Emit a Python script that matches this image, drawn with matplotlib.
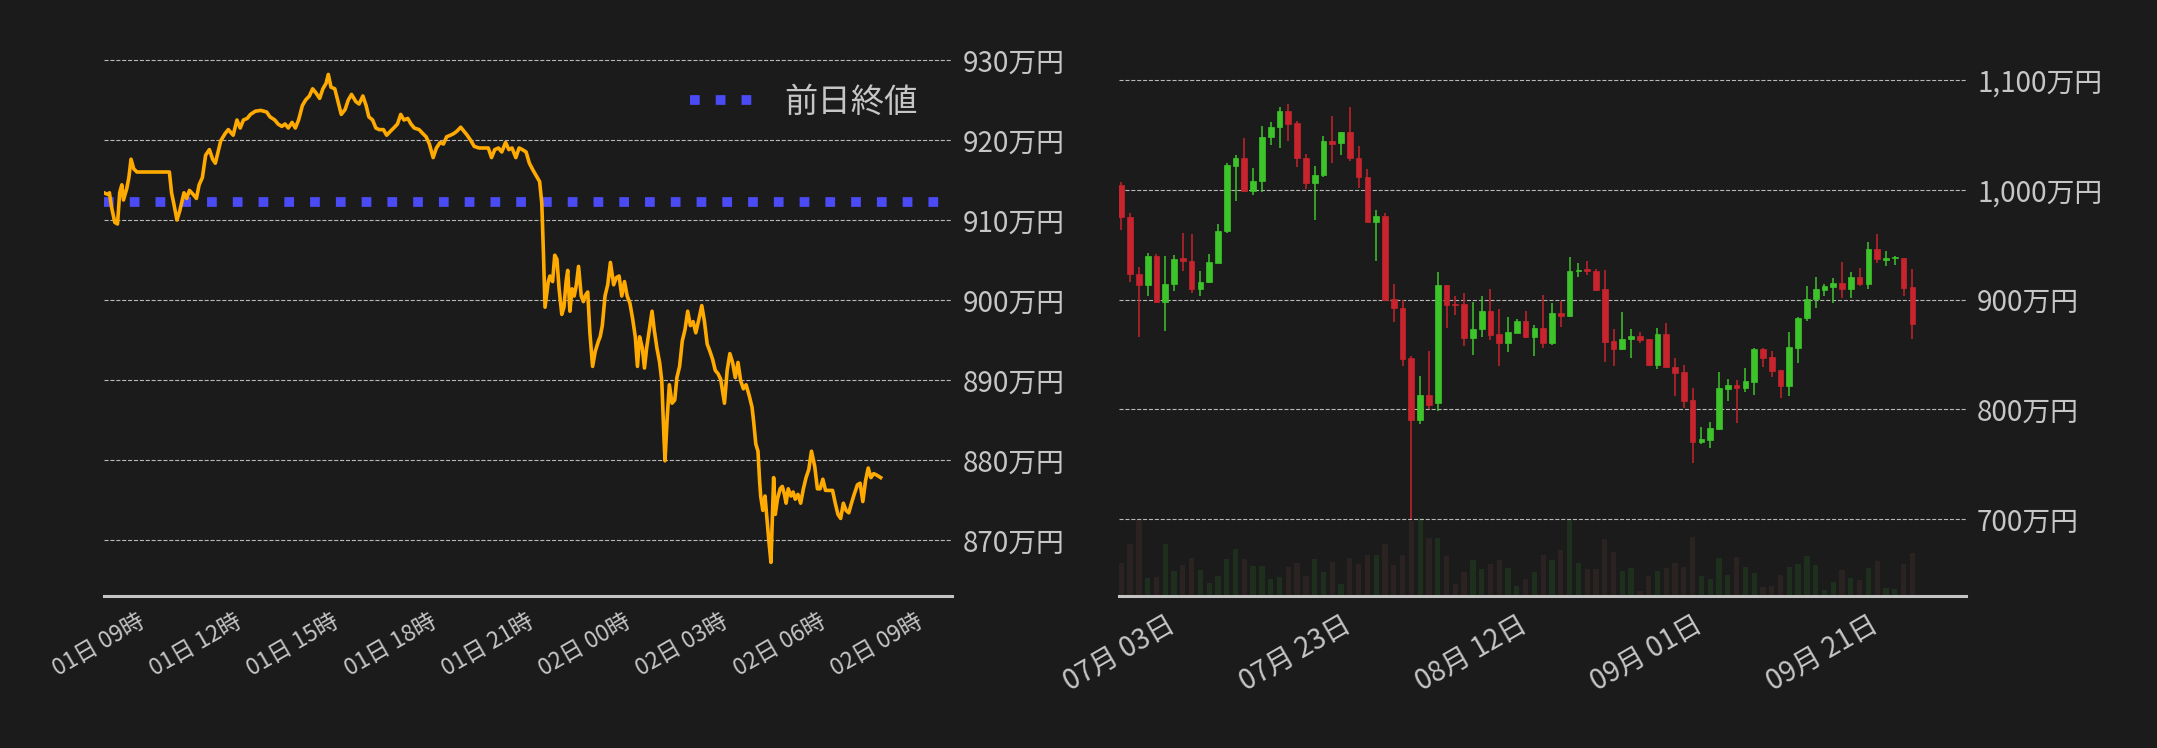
import numpy as np
import pandas as pd
import matplotlib
matplotlib.use("Agg")
import matplotlib.pyplot as plt
import matplotlib.dates as mdates
from matplotlib.ticker import FuncFormatter

# ---- intraday (left): minutes from 01日 09:00, price in 万円 ----
intraday_min = [
    -61, -54, -51, -47, -41, -36, -32, -28, -25, -19,
    -15, -11, -6, 0, 60, 64, 68, 74, 79, 87,
    92, 97, 104, 110, 115, 121, 127, 134, 140, 145,
    150, 155, 163, 169, 178, 185, 191, 197, 204, 210,
    219, 229, 240, 246, 255, 261, 268, 274, 280, 287,
    293, 299, 306, 312, 319, 325, 331, 338, 344, 350,
    354, 359, 366, 372, 378, 385, 391, 397, 405, 411,
    418, 424, 429, 436, 442, 448, 456, 462, 469, 475,
    482, 488, 494, 501, 507, 513, 522, 529, 535, 541,
    548, 554, 561, 567, 573, 580, 586, 592, 599, 605,
    611, 618, 624, 633, 643, 650, 656, 662, 669, 675,
    682, 688, 694, 701, 707, 713, 720, 726, 733, 739,
    745, 749, 752, 755, 761, 764, 769, 773, 777, 781,
    786, 790, 794, 797, 801, 805, 809, 813, 817, 822,
    826, 829, 834, 838, 843, 848, 854, 857, 861, 866,
    871, 876, 882, 887, 892, 897, 902, 907, 912, 917,
    922, 926, 930, 935, 939, 943, 948, 953, 957, 962,
    967, 971, 975, 977, 981, 985, 990, 995, 999, 1004,
    1009, 1014, 1019, 1024, 1029, 1034, 1040, 1045, 1050, 1055,
    1060, 1065, 1070, 1075, 1080, 1087, 1092, 1097, 1102, 1107,
    1112, 1117, 1122, 1127, 1133, 1138, 1141, 1145, 1149, 1152,
    1154, 1158, 1162, 1166, 1169, 1173, 1176, 1178, 1181, 1185,
    1190, 1194, 1198, 1201, 1205, 1210, 1214, 1218, 1223, 1228,
    1233, 1238, 1243, 1248, 1254, 1259, 1264, 1269, 1274, 1280,
    1287, 1292, 1297, 1302, 1307, 1312, 1317, 1322, 1327, 1333,
    1338, 1343, 1348, 1353, 1358, 1363, 1369, 1376,
]
intraday_price = [
    913.4, 913.2, 913.4, 911.6, 909.7, 909.5, 913.4, 914.4, 912.5, 913.9,
    915.3, 917.6, 916.4, 916.0, 916.0, 913.4, 912.1, 910.0, 911.1, 913.4,
    912.7, 913.7, 913.2, 912.7, 914.4, 915.3, 918.1, 918.8, 917.6, 917.1,
    918.5, 919.9, 920.8, 921.3, 920.6, 922.5, 921.5, 922.5, 922.7, 923.2,
    923.6, 923.7, 923.5, 922.9, 922.5, 922.0, 921.7, 922.0, 921.5, 922.2,
    921.5, 922.5, 924.3, 925.0, 925.5, 926.4, 925.9, 925.2, 926.4, 927.1,
    928.2, 926.6, 926.4, 924.8, 923.2, 923.8, 925.0, 925.7, 924.8, 924.5,
    925.5, 924.3, 922.9, 922.5, 921.5, 921.3, 921.3, 920.6, 921.1, 921.5,
    922.0, 923.2, 922.5, 922.7, 922.0, 921.5, 921.3, 920.8, 920.4, 919.5,
    917.8, 919.0, 919.7, 919.5, 920.4, 920.6, 920.8, 921.1, 921.6, 921.1,
    920.6, 919.9, 919.2, 919.0, 919.0, 919.0, 917.8, 918.8, 919.0, 918.5,
    919.7, 918.8, 919.0, 917.8, 919.0, 918.8, 918.5, 917.1, 916.2, 915.5,
    914.8, 912.1, 906.0, 899.1, 902.3, 903.0, 902.3, 905.6, 905.1, 901.4,
    898.2, 899.1, 902.3, 903.7, 898.6, 901.4, 900.5, 901.9, 904.2, 900.5,
    899.8, 900.5, 901.0, 895.9, 891.7, 893.6, 894.9, 895.4, 896.8, 900.5,
    901.9, 904.7, 901.9, 902.8, 903.0, 900.5, 902.3, 900.5, 899.6, 897.7,
    895.4, 891.7, 895.4, 894.0, 891.5, 894.0, 896.3, 898.6, 896.3, 894.0,
    892.2, 889.9, 882.9, 879.9, 885.2, 889.4, 887.1, 887.5, 890.3, 891.7,
    894.9, 896.3, 898.6, 896.8, 897.3, 895.9, 897.7, 899.3, 897.3, 894.5,
    893.6, 892.6, 891.2, 890.8, 890.1, 887.1, 891.2, 893.3, 892.2, 890.3,
    892.2, 889.9, 888.9, 889.4, 888.0, 886.6, 884.8, 882.0, 881.1, 877.4,
    875.5, 873.7, 875.5, 872.3, 870.0, 867.2, 873.7, 877.8, 873.2, 875.1,
    876.4, 876.7, 875.7, 874.6, 876.4, 875.5, 876.0, 875.1, 875.7, 874.6,
    876.4, 877.8, 878.8, 881.1, 879.2, 876.4, 876.4, 877.6, 876.2, 876.2,
    876.2, 874.6, 873.2, 872.7, 874.6, 873.7, 873.4, 874.6, 875.7, 876.9,
    877.1, 874.8, 877.4, 879.0, 877.8, 878.3, 878.1, 877.8,
]
prev_close = 912.2
intraday_yticks = [870, 880, 890, 900, 910, 920, 930]

# ---- daily candles (right), 万円 ----
daily_start = "2024-06-28"
opens = [
    1004.5, 975.5, 923.6, 913.0, 940.0, 897.6, 913.9, 938.2, 935.5, 909.4,
    915.8, 933.0, 962.0, 1022.0, 1029.0, 998.5, 1007.6, 1047.6, 1056.7, 1071.8,
    1060.9, 1029.0, 1005.8, 1013.0, 1044.5, 1043.0, 1052.7, 1029.0, 1011.8, 970.3,
    976.4, 900.9, 892.7, 846.4, 790.3, 812.7, 805.8, 913.6, 895.5, 895.5,
    864.8, 873.0, 890.0, 868.2, 860.3, 869.4, 880.0, 865.8, 874.5, 860.3,
    887.3, 884.8, 925.8, 928.2, 926.4, 910.0, 861.8, 854.8, 863.9, 866.4,
    864.0, 840.3, 869.0, 839.0, 833.6, 808.2, 770.3, 772.1, 782.1, 818.5,
    821.8, 819.4, 824.8, 854.5, 847.3, 835.5, 821.2, 855.8, 883.0, 900.3,
    909.1, 911.8, 915.5, 910.0, 920.9, 914.5, 946.4, 936.4, 937.6, 938.2,
    911.8,
]
highs = [
    1007.3, 978.8, 930.0, 942.7, 941.8, 940.0, 940.9, 960.9, 960.0, 926.4,
    941.8, 969.0, 1024.5, 1031.8, 1047.3, 1020.0, 1058.2, 1061.8, 1075.5, 1078.2,
    1062.7, 1032.7, 1021.8, 1049.0, 1067.3, 1052.7, 1075.5, 1040.0, 1019.0, 981.8,
    979.0, 914.5, 900.0, 849.0, 830.0, 852.7, 925.5, 913.6, 903.6, 905.5,
    897.3, 903.6, 910.0, 891.8, 884.5, 882.7, 890.0, 876.4, 904.5, 896.4,
    899.1, 939.0, 933.6, 935.5, 928.2, 927.3, 873.6, 889.0, 873.6, 870.0,
    864.0, 874.5, 879.0, 846.7, 840.3, 819.4, 783.6, 788.2, 833.6, 827.3,
    826.4, 837.3, 855.5, 855.5, 852.7, 835.5, 870.0, 884.5, 912.7, 920.9,
    914.5, 920.0, 934.5, 925.5, 929.0, 952.7, 960.0, 944.5, 940.0, 938.2,
    928.2,
]
lows = [
    963.0, 916.4, 865.8, 903.0, 896.7, 871.2, 907.6, 925.8, 905.8, 903.0,
    914.8, 933.0, 960.3, 989.4, 998.5, 994.8, 997.6, 1040.3, 1037.6, 1044.8,
    1020.3, 1001.0, 972.0, 1011.2, 1024.0, 1031.8, 1025.8, 1002.0, 970.3, 934.8,
    898.5, 879.4, 839.4, 700.0, 786.4, 800.0, 798.5, 874.0, 885.8, 857.6,
    849.4, 865.8, 863.0, 839.4, 852.1, 869.4, 864.8, 848.5, 855.8, 858.5,
    874.8, 884.0, 920.3, 922.7, 908.2, 843.0, 839.4, 853.9, 846.7, 860.3,
    839.4, 836.7, 837.6, 812.1, 801.2, 751.0, 768.5, 764.8, 781.2, 807.6,
    787.6, 815.8, 813.0, 838.5, 829.4, 810.3, 812.1, 842.1, 880.3, 892.7,
    903.6, 896.4, 901.8, 901.8, 912.7, 910.0, 933.6, 930.9, 931.8, 903.6,
    864.5,
]
closes = [
    974.8, 923.0, 913.0, 940.0, 897.6, 914.5, 937.3, 934.8, 909.4, 916.4,
    934.5, 962.7, 1022.7, 1029.0, 998.5, 1008.2, 1048.2, 1057.3, 1071.8, 1060.3,
    1028.5, 1005.8, 1013.6, 1044.5, 1042.0, 1052.7, 1028.5, 1011.2, 970.3, 976.4,
    899.4, 892.1, 845.8, 790.3, 812.7, 804.0, 913.6, 894.8, 894.8, 864.8,
    873.6, 890.0, 867.6, 860.3, 870.0, 880.0, 865.8, 874.5, 860.3, 887.3,
    884.8, 926.4, 927.3, 925.8, 909.1, 861.2, 854.8, 864.5, 866.4, 863.0,
    840.3, 869.0, 838.5, 833.0, 807.6, 770.3, 772.7, 782.7, 819.0, 821.8,
    819.4, 825.5, 854.5, 846.7, 834.8, 821.2, 856.4, 883.6, 900.9, 910.0,
    912.7, 915.5, 910.0, 920.9, 914.5, 946.4, 937.3, 938.2, 938.2, 910.9,
    877.3,
]
volumes = [
    99, 156, 227, 54, 57, 156, 75, 93, 114, 78,
    39, 60, 111, 141, 111, 90, 90, 51, 57, 87,
    99, 60, 111, 72, 102, 36, 114, 96, 123, 123,
    156, 93, 123, 225, 234, 174, 174, 120, 36, 72,
    108, 81, 96, 108, 84, 30, 51, 72, 123, 108,
    138, 228, 99, 81, 81, 171, 132, 75, 84, 15,
    60, 75, 84, 99, 87, 177, 60, 51, 114, 63,
    117, 87, 69, 27, 30, 63, 87, 96, 120, 93,
    18, 42, 78, 54, 48, 84, 105, 24, 21, 96,
    129,
]
daily_yticks = [700, 800, 900, 1000, 1100]
daily_xticks = ["2024-07-03", "2024-07-23", "2024-08-12", "2024-09-01", "2024-09-21"]

# ---- styling ----
BG = "#1b1b1b"
TXT = "#c6c6c6"
GRID = "#b8b8b8"
UP = "#3ec42b"
DOWN = "#c8242d"
UP_VOL = "#1e301d"
DOWN_VOL = "#2b2222"

plt.rcParams["font.family"] = ["Noto Sans CJK JP", "DejaVu Sans"]

W, H = 2157, 748
fig = plt.figure(figsize=(W / 100, H / 100), dpi=100, facecolor=BG)


def box(x0, y0, x1, y1):
    # pixel box -> figure fraction
    return [x0 / W, 1 - y1 / H, (x1 - x0) / W, (y1 - y0) / H]


def man_yen(v, pos):
    return f"{v:,.0f}万円"


def style_axis(ax, xlabelsize):
    ax.set_facecolor(BG)
    for s in ["top", "left", "right"]:
        ax.spines[s].set_visible(False)
    ax.spines["bottom"].set_color("#c4c4c4")
    ax.spines["bottom"].set_linewidth(2.2)
    ax.yaxis.tick_right()
    ax.yaxis.set_major_formatter(FuncFormatter(man_yen))
    ax.tick_params(axis="y", length=0, pad=8, labelsize=20, labelcolor=TXT)
    ax.tick_params(axis="x", length=0, pad=10, labelsize=xlabelsize, labelcolor=TXT)
    ax.grid(axis="y", color=GRID, ls="--", lw=0.8)
    ax.set_axisbelow(True)


# ---------- left: intraday line ----------
ax1 = fig.add_axes(box(104, 36, 952, 596))
style_axis(ax1, 16.5)
times = pd.Timestamp("2024-10-01 09:00") + pd.to_timedelta(intraday_min, unit="m")
ax1.axhline(prev_close, color="#4b4bf5", lw=7, ls=":", label="前日終値", zorder=2)
ax1.plot(times, intraday_price, color="#ffaa00", lw=2.6, zorder=3)
ax1.set_xlim(times[0], times[-1] + pd.Timedelta(minutes=132))
ax1.set_ylim(863, 933)
ax1.set_yticks(intraday_yticks)
ax1.xaxis.set_major_locator(mdates.HourLocator(byhour=range(0, 24, 3)))
ax1.xaxis.set_major_formatter(mdates.DateFormatter("%d日 %H時"))
for lab in ax1.get_xticklabels():
    lab.set(rotation=30, ha="right", rotation_mode="anchor")
ax1.legend(loc="center right", bbox_to_anchor=(0.96, 0.882), frameon=False,
           fontsize=24, labelcolor=TXT, handlelength=2.0, handletextpad=0.85,
           borderpad=0, borderaxespad=0)

# ---------- right: candles + volume ----------
dates = pd.date_range(daily_start, periods=len(opens), freq="D")
x = mdates.date2num(dates)
o = np.array(opens)
h = np.array(highs)
l = np.array(lows)
c = np.array(closes)
up = c >= o

axv = fig.add_axes(box(1119, 36, 1966, 596))
axv.set_facecolor(BG)
for s in axv.spines.values():
    s.set_visible(False)
axv.bar(x, volumes, width=0.6, color=np.where(up, UP_VOL, DOWN_VOL))
axv.set_ylim(0, 1680)
axv.set_yticks([])
axv.tick_params(axis="x", bottom=False, labelbottom=False)

ax2 = fig.add_axes(box(1119, 36, 1966, 596), sharex=axv)
style_axis(ax2, 20)
ax2.patch.set_visible(False)
cols = np.where(up, UP, DOWN)
ax2.vlines(x, l, h, colors=cols, lw=1.1, zorder=2)
ax2.bar(x, np.maximum(np.abs(c - o), 1.2), bottom=np.minimum(o, c), width=0.65,
        color=cols, edgecolor=cols, lw=0.5, zorder=3)
ax2.set_xlim(x[0] - 0.26, x[0] + 96.1)
ax2.set_ylim(630, 1140)
ax2.set_yticks(daily_yticks)
ax2.set_xticks(mdates.date2num(pd.to_datetime(daily_xticks)))
ax2.xaxis.set_major_formatter(mdates.DateFormatter("%m月 %d日"))
for lab in ax2.get_xticklabels():
    lab.set(rotation=30, ha="right", rotation_mode="anchor")

fig.savefig("out.png", dpi=100, facecolor=BG)
